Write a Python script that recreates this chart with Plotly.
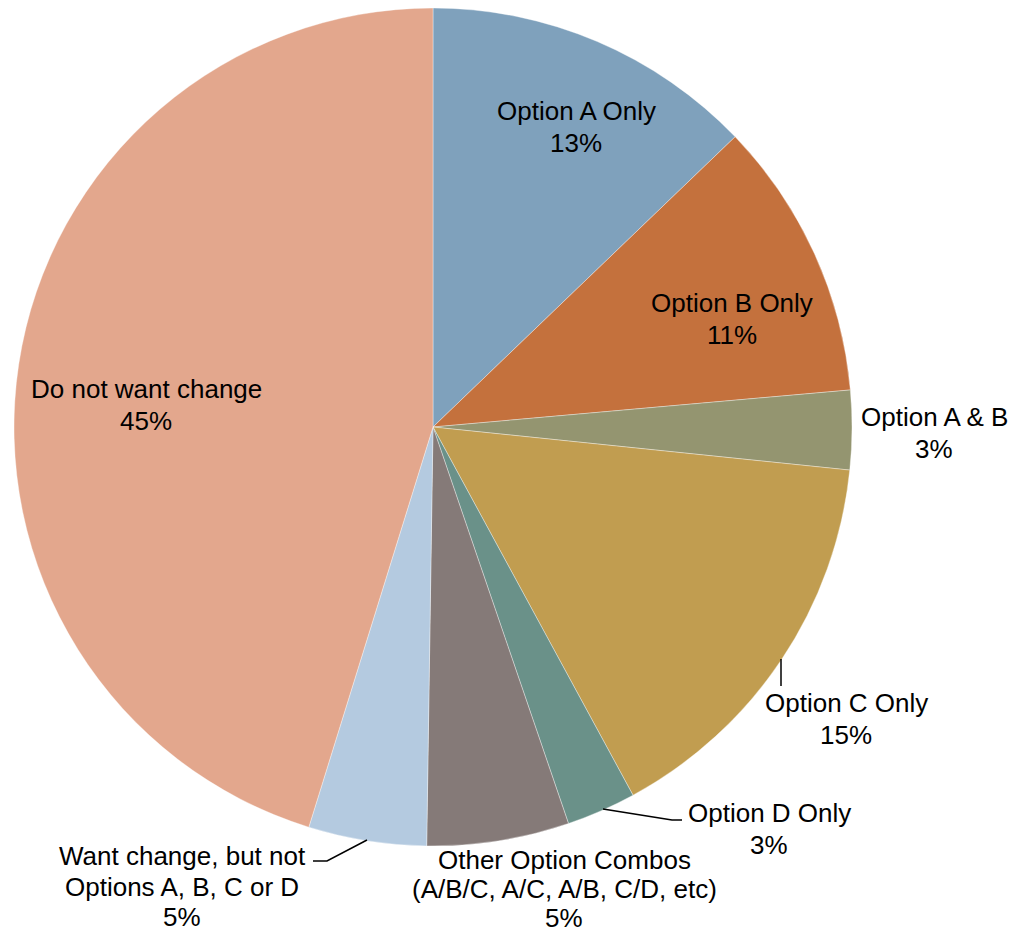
import plotly.graph_objects as go

W, H = 1015, 933

categories = [
    "Option A Only",
    "Option B Only",
    "Option A & B",
    "Option C Only",
    "Option D Only",
    "Other Option Combos<br>(A/B/C, A/C, A/B, C/D, etc)",
    "Want change, but not<br>Options A, B, C or D",
    "Do not want change",
]
values = [12.82, 10.77, 3.05, 15.44, 2.68, 5.48, 4.55, 45.21]
colors = ["#7FA1BC", "#C4713D", "#949570", "#C19D50", "#6A9189",
          "#857A78", "#B4CAE0", "#E3A78D"]

# label placement (pixel centre of first line, line gap) - style/layout only
label_pos = [(576, 111, 31.5), (732, 303, 31.5), (934, 417, 31.5), (846, 703, 31.5),
             (769, 813, 31.5), (564, 860, 29), (182, 856, 30.5), (146, 389, 31.5)]


def px(x, y):
    return x / W, 1 - y / H


fig = go.Figure(go.Pie(
    labels=[c.replace("<br>", " ") for c in categories],
    values=values,
    sort=False,
    direction="clockwise",
    rotation=0,
    textinfo="none",
    hoverinfo="label+percent",
    marker=dict(colors=colors, line=dict(color="rgba(255,255,255,0.6)", width=0.6)),
    domain=dict(x=[14 / W, 852 / W], y=[1 - 846 / H, 1 - 8 / H]),
    showlegend=False,
))

total = sum(values)
annotations = []
for cat, v, (cx, cy, gap) in zip(categories, values, label_pos):
    lines = cat.split("<br>") + [f"{round(v / total * 100):.0f}%"]
    for i, t in enumerate(lines):
        x, y = px(cx, cy + i * gap)
        annotations.append(dict(
            x=x, y=y, xref="paper", yref="paper", text=t, showarrow=False,
            xanchor="center", yanchor="middle", borderpad=0,
            font=dict(family="Liberation Sans, Arial, sans-serif", size=26, color="#000000"),
        ))

leaders = [
    [(781, 659), (781, 686)],
    [(603, 809), (672, 820), (682, 820)],
    [(367, 840), (327, 861), (313, 861)],
]
shapes = []
for pts in leaders:
    path = ""
    for j, (x, y) in enumerate(pts):
        X, Y = px(x, y)
        path += ("M" if j == 0 else "L") + f"{X},{Y} "
    shapes.append(dict(type="path", path=path.strip(), xref="paper", yref="paper",
                       line=dict(color="#000000", width=1.5)))

fig.update_layout(
    width=W, height=H,
    margin=dict(l=0, r=0, t=0, b=0),
    paper_bgcolor="white",
    plot_bgcolor="white",
    annotations=annotations,
    shapes=shapes,
)

fig.write_html("out.html",
               config={"displayModeBar": False},
               post_script="document.body.style.margin='0';document.body.style.overflow='hidden';")
